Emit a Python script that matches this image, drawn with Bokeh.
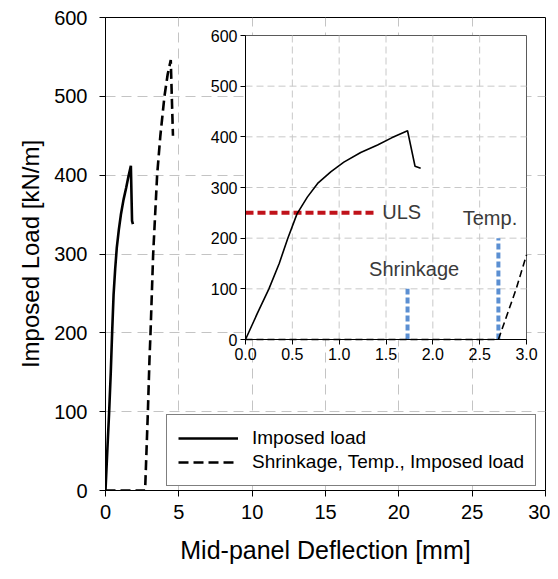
from bokeh.plotting import figure
from bokeh.models import Range1d, LinearAxis, FixedTicker, Legend, LegendItem, PrintfTickFormatter
from bokeh.core.properties import value
from bokeh.embed import file_html
from bokeh.resources import INLINE

# ---------------- data ----------------
imposed_x = [0, 0.125, 0.25, 0.36, 0.45, 0.55, 0.66, 0.77, 0.91, 1.05, 1.23, 1.41, 1.56, 1.73, 1.81, 1.87]
imposed_y = [0, 51, 100, 150, 199, 248, 281, 308, 331, 350, 369, 384, 398, 412, 342, 338]

combined_x = [0, 2.70, 2.89, 3.00, 3.07, 3.25, 3.52, 3.74, 4.02, 4.24, 4.45, 4.52, 4.60]
combined_y = [0, 0, 100, 167, 200, 300, 400, 450, 500, 528, 546, 500, 450]

main_x_ticks = [0, 5, 10, 15, 20, 25, 30]
main_y_ticks = [0, 100, 200, 300, 400, 500, 600]
inset_x_ticks = [0.0, 0.5, 1.0, 1.5, 2.0, 2.5, 3.0]
inset_y_ticks = [0, 100, 200, 300, 400, 500, 600]

uls_load = [250]
uls_x_end = [1.38]
marker_labels = ["ULS", "Shrinkage", "Temp."]
marker_label_x = [1.46, 1.80, 2.61]
marker_label_y = [252, 140, 239]
shrinkage_x = [1.73]
shrinkage_top = [100]
temp_x = [2.70]
temp_top = [200]

legend_labels = ["Imposed load", "Shrinkage, Temp., Imposed load"]
x_label = "Mid-panel Deflection [mm]"
y_label = "Imposed Load [kN/m]"

FONT = "Liberation Sans"

# ---------------- layout (figure pixels) ----------------
W, H = 550, 571
FR_L, FR_R, FR_T, FR_B = 105, 545, 17, 490        # main frame
IN_L, IN_R, IN_T, IN_B = 245, 526, 35, 339        # inset box

p = figure(width=W, height=H,
           x_range=Range1d(main_x_ticks[0], main_x_ticks[-1]),
           y_range=Range1d(main_y_ticks[0], main_y_ticks[-1]),
           output_backend="svg", toolbar_location=None,
           min_border_left=FR_L, min_border_right=W - FR_R,
           min_border_top=FR_T, min_border_bottom=H - FR_B,
           background_fill_color="white", border_fill_color="white")

p.outline_line_color = "black"
p.outline_line_width = 1

# extra ranges so that the inset data lands inside the inset box
ix0, ix1 = inset_x_ticks[0], inset_x_ticks[-1]
iy0, iy1 = inset_y_ticks[0], inset_y_ticks[-1]
sx = (IN_R - IN_L) / (ix1 - ix0)
sy = (IN_B - IN_T) / (iy1 - iy0)
p.extra_x_ranges = {"ix": Range1d(ix0 - (IN_L - FR_L) / sx, ix1 + (FR_R - IN_R) / sx)}
p.extra_y_ranges = {"iy": Range1d(iy0 - (FR_B - IN_B) / sy, iy1 + (IN_T - FR_T) / sy)}

# ---------------- main axes ----------------
for ax in (p.xaxis[0], p.yaxis[0]):
    ax.major_label_text_font = FONT
    ax.major_label_text_font_size = "20px"
    ax.major_label_text_color = "black"
    ax.axis_label_text_font = FONT
    ax.axis_label_text_font_style = "normal"
    ax.axis_label_text_color = "black"
    ax.major_tick_out = 6
    ax.major_tick_in = 0
    ax.minor_tick_out = 0
    ax.minor_tick_in = 0
    ax.axis_line_color = "black"
    ax.major_tick_line_color = "black"

p.xaxis[0].ticker = FixedTicker(ticks=main_x_ticks)
p.yaxis[0].ticker = FixedTicker(ticks=main_y_ticks)
p.xaxis[0].axis_label = x_label
p.yaxis[0].axis_label = y_label
p.xaxis[0].axis_label_text_font_size = "25px"
p.yaxis[0].axis_label_text_font_size = "24px"
p.xaxis[0].major_label_standoff = 8
p.xaxis[0].axis_label_standoff = 14
p.yaxis[0].major_label_standoff = 12
p.yaxis[0].axis_label_standoff = 7

p.xgrid.ticker = FixedTicker(ticks=main_x_ticks)
p.ygrid.ticker = FixedTicker(ticks=main_y_ticks)
for g in (p.xgrid[0], p.ygrid[0]):
    g.grid_line_color = "#c4c4c4"
    g.grid_line_dash = "10 6"
    g.grid_line_width = 1

# ---------------- main curves ----------------
r_imp = p.line(imposed_x, imposed_y, line_color="black", line_width=2.6)
r_comb = p.line(combined_x, combined_y, line_color="black", line_width=2.6,
                line_dash="10 5")

# ---------------- inset ----------------
rk = dict(x_range_name="ix", y_range_name="iy")
p.quad(left=[ix0], right=[ix1], bottom=[iy0], top=[iy1],
       fill_color="white", line_color="#5a5a5a", line_width=1, **rk)

gx = inset_x_ticks[1:-1]
gy = inset_y_ticks[1:-1]
p.segment(x0=gx, y0=[iy0] * len(gx), x1=gx, y1=[iy1] * len(gx),
          line_color="#c8c8c8", line_width=1, line_dash="7 4", **rk)
p.segment(x0=[ix0] * len(gy), y0=gy, x1=[ix1] * len(gy), y1=gy,
          line_color="#c8c8c8", line_width=1, line_dash="7 4", **rk)

# ULS line
p.segment(x0=[ix0], y0=uls_load, x1=uls_x_end, y1=uls_load,
          line_color="#c0121a", line_width=4, line_dash="8 4", **rk)
# shrinkage / temperature markers
p.segment(x0=shrinkage_x + temp_x, y0=[iy0, iy0], x1=shrinkage_x + temp_x,
          y1=shrinkage_top + temp_top,
          line_color="#5b8fd2", line_width=4, line_dash="6 3", **rk)

# curves in the inset
p.line(imposed_x, imposed_y, line_color="black", line_width=1.6, **rk)
cx = [x for x in combined_x if x <= ix1]
cy = [y for x, y in zip(combined_x, combined_y) if x <= ix1]
p.line(cx, cy, line_color="black", line_width=1.6, line_dash="7 4", **rk)

p.text(x=marker_label_x[:1], y=marker_label_y[:1], text=marker_labels[:1],
       text_font=value(FONT), text_font_size="20px", text_color="#3a3a3a",
       text_align="left", text_baseline="middle", **rk)
p.text(x=marker_label_x[1:], y=marker_label_y[1:], text=marker_labels[1:],
       text_font=value(FONT), text_font_size="20px", text_color="#3a3a3a",
       text_align="center", text_baseline="middle", **rk)

# inset axes (fixed at inset origin)
ax_l = LinearAxis(x_range_name="ix", y_range_name="iy", fixed_location=ix0,
                  bounds=(iy0, iy1), ticker=FixedTicker(ticks=inset_y_ticks))
ax_b = LinearAxis(x_range_name="ix", y_range_name="iy", fixed_location=iy0,
                  bounds=(ix0, ix1), ticker=FixedTicker(ticks=inset_x_ticks),
                  formatter=PrintfTickFormatter(format="%.1f"))
for ax in (ax_l, ax_b):
    ax.major_label_text_font = FONT
    ax.major_label_text_font_size = "16px"
    ax.major_label_text_color = "black"
    ax.major_tick_out = 5
    ax.major_tick_in = 0
    ax.minor_tick_out = 0
    ax.minor_tick_in = 0
    ax.axis_line_color = "black"
    ax.major_label_standoff = 3
p.add_layout(ax_l, "left")
p.add_layout(ax_b, "below")

# ---------------- legend ----------------
legend = Legend(items=[LegendItem(label=legend_labels[0], renderers=[r_imp]),
                       LegendItem(label=legend_labels[1], renderers=[r_comb])],
                location=(61, 4), orientation="vertical",
                border_line_color="black", border_line_width=1,
                background_fill_color="white", background_fill_alpha=1,
                padding=11, spacing=0, margin=0,
                label_height=24, glyph_height=24, glyph_width=60,
                label_standoff=14,
                label_text_font=FONT, label_text_font_size="19px",
                label_text_color="black")
p.add_layout(legend)

open("out.html", "w").write(file_html(p, INLINE))
